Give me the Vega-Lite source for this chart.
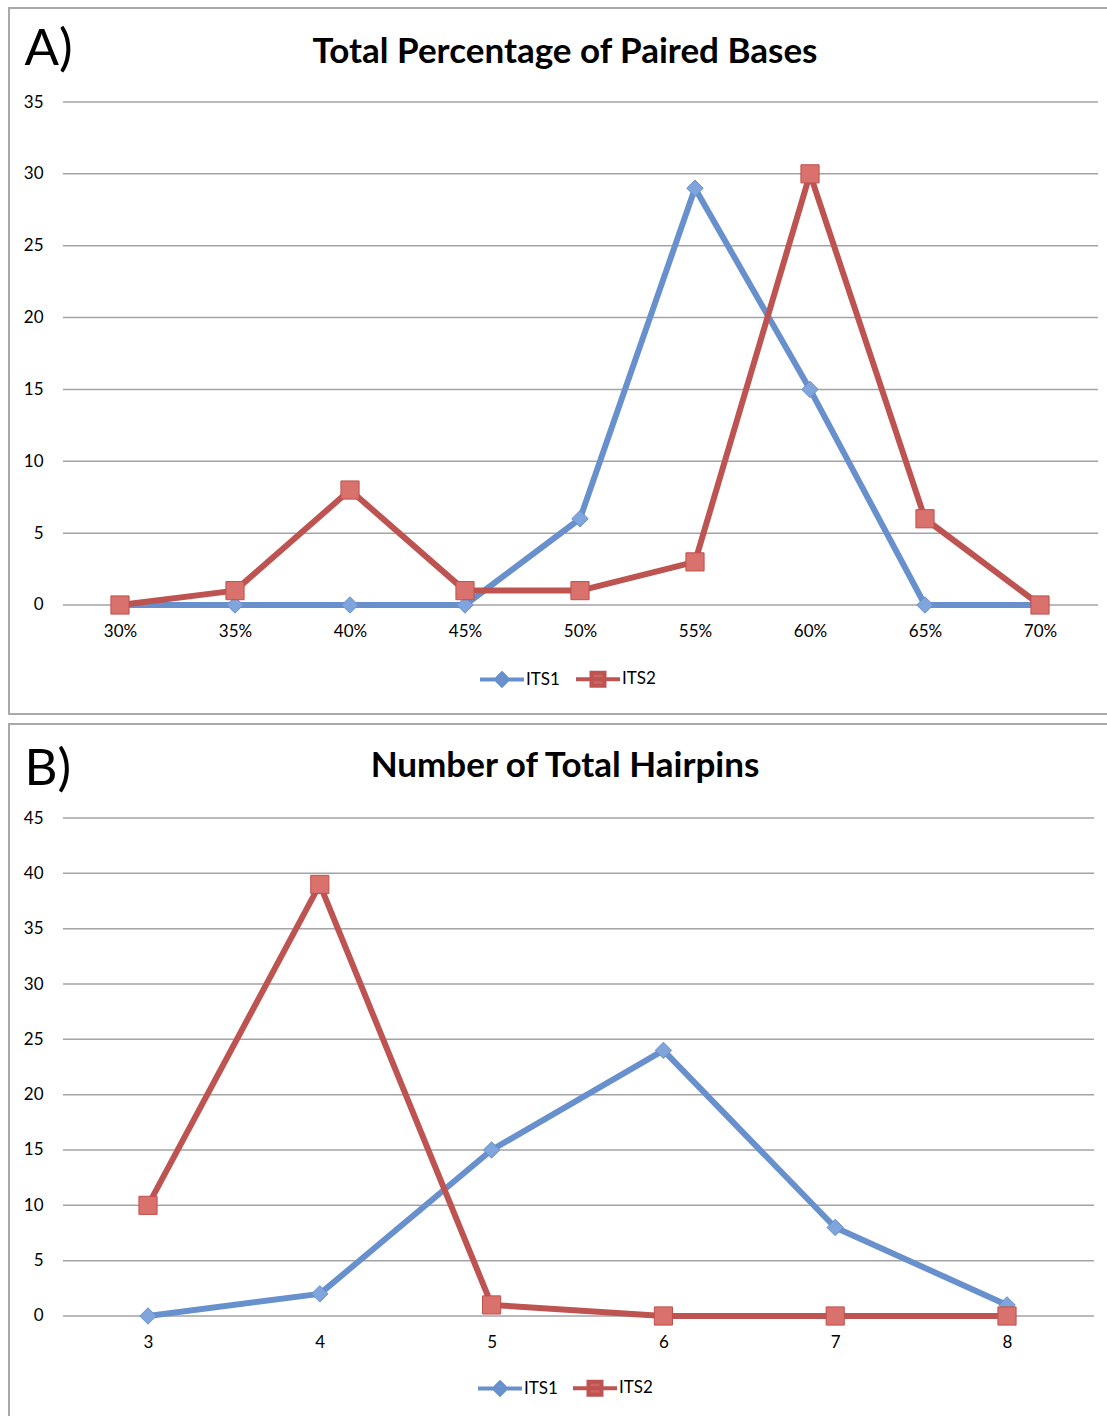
{
  "$schema": "https://vega.github.io/schema/vega-lite/v6.json",
  "padding": {"left": 8, "top": 7, "right": 0, "bottom": 0},
  "spacing": 8,
  "config": {
    "font": "Lato",
    "view": {"stroke": "#A9A9A9", "strokeWidth": 2},
    "legend": {"padding": 0}
  },
  "datasets": {
    "paired": [
      {"pct": 30, "series": "ITS1", "count": 0},
      {"pct": 35, "series": "ITS1", "count": 0},
      {"pct": 40, "series": "ITS1", "count": 0},
      {"pct": 45, "series": "ITS1", "count": 0},
      {"pct": 50, "series": "ITS1", "count": 6},
      {"pct": 55, "series": "ITS1", "count": 29},
      {"pct": 60, "series": "ITS1", "count": 15},
      {"pct": 65, "series": "ITS1", "count": 0},
      {"pct": 70, "series": "ITS1", "count": 0},
      {"pct": 30, "series": "ITS2", "count": 0},
      {"pct": 35, "series": "ITS2", "count": 1},
      {"pct": 40, "series": "ITS2", "count": 8},
      {"pct": 45, "series": "ITS2", "count": 1},
      {"pct": 50, "series": "ITS2", "count": 1},
      {"pct": 55, "series": "ITS2", "count": 3},
      {"pct": 60, "series": "ITS2", "count": 30},
      {"pct": 65, "series": "ITS2", "count": 6},
      {"pct": 70, "series": "ITS2", "count": 0}
    ],
    "hairpins": [
      {"n": 3, "series": "ITS1", "count": 0},
      {"n": 4, "series": "ITS1", "count": 2},
      {"n": 5, "series": "ITS1", "count": 15},
      {"n": 6, "series": "ITS1", "count": 24},
      {"n": 7, "series": "ITS1", "count": 8},
      {"n": 8, "series": "ITS1", "count": 1},
      {"n": 3, "series": "ITS2", "count": 10},
      {"n": 4, "series": "ITS2", "count": 39},
      {"n": 5, "series": "ITS2", "count": 1},
      {"n": 6, "series": "ITS2", "count": 0},
      {"n": 7, "series": "ITS2", "count": 0},
      {"n": 8, "series": "ITS2", "count": 0}
    ],
    "gridA": [{"g": 0}, {"g": 5}, {"g": 10}, {"g": 15}, {"g": 20}, {"g": 25}, {"g": 30}, {"g": 35}],
    "gridB": [{"g": 0}, {"g": 5}, {"g": 10}, {"g": 15}, {"g": 20}, {"g": 25}, {"g": 30}, {"g": 35}, {"g": 40}, {"g": 45}]
  },
  "resolve": {
    "scale": {"x": "independent", "y": "independent", "color": "independent"},
    "legend": {"color": "independent"},
    "axis": {"x": "independent", "y": "independent"}
  },
  "vconcat": [
    {
      "width": 1104,
      "height": 706,
      "title": {"text": "Total Percentage of Paired Bases", "anchor": "middle", "frame": "group", "offset": -90, "baseline": "alphabetic", "fontSize": 35, "font": "Lato", "fontWeight": "bold", "color": "black", "dx": 4},
      "layer": [
        {
          "data": {"name": "gridA"},
          "mark": {"type": "rule", "color": "#A3A3A3", "strokeWidth": 1.5},
          "encoding": {
            "x": {"datum": 27.52, "type": "quantitative", "scale": {"domain": [25.174, 73.174], "nice": false, "zero": false}},
            "x2": {"datum": 72.52},
            "y": {"field": "g", "type": "quantitative", "scale": {"domain": [-7.585, 41.541], "nice": false, "zero": false}}
          }
        },
        {
          "data": {"name": "paired"},
          "mark": {"type": "line", "strokeWidth": 6, "strokeJoin": "round", "strokeCap": "round"},
          "encoding": {
            "x": {"field": "pct", "type": "quantitative",
              "axis": {"values": [30, 35, 40, 45, 50, 55, 60, 65, 70], "labelExpr": "datum.value + '%'", "grid": false, "ticks": false, "tickSize": 0, "domain": false, "offset": -109, "labelPadding": 18, "labelFontSize": 17, "labelColor": "black", "labelFont": "Lato", "title": null}},
            "y": {"field": "count", "type": "quantitative",
              "axis": {"values": [0, 5, 10, 15, 20, 25, 30, 35], "grid": false, "ticks": false, "tickSize": 0, "domain": false, "offset": -38, "labelPadding": 4, "labelFontSize": 17, "labelColor": "black", "labelFont": "Lato",
                "title": "A)", "titleAngle": 0, "titleX": -23, "titleY": 56, "titleAlign": "left", "titleBaseline": "alphabetic", "titleFontSize": 51, "titleFontWeight": "normal", "titleFont": "Lato", "titleColor": "black"}},
            "color": {"field": "series", "type": "nominal",
              "scale": {"domain": ["ITS1", "ITS2"], "range": ["#6890CC", "#BE5451"]},
              "legend": {"orient": "none", "legendX": 481, "legendY": 659, "direction": "horizontal", "title": null, "symbolSize": 400, "symbolStrokeWidth": 4, "labelOffset": 12, "columnPadding": 8, "labelFontSize": 17, "labelColor": "black", "labelFont": "Lato",
                "encode": {"symbols": {"update": {
                  "shape": {"signal": "datum.value === 'ITS1' ? 'M-2.2,0L2.2,0M0,-0.6L0.6,0L0,0.6L-0.6,0Z' : 'M-2.2,0L2.2,0M-0.65,-0.65L0.65,-0.65L0.65,0.65L-0.65,0.65Z'"},
                  "fill": {"signal": "datum.value === 'ITS1' ? '#7FA3DA' : '#CF6560'"}
                }}}}}
          }
        },
        {
          "data": {"name": "paired"},
          "transform": [{"filter": "datum.series === 'ITS1'"}],
          "mark": {"type": "point", "shape": "diamond", "size": 270, "filled": true, "fill": "#80A5DC", "stroke": "#6890CC", "strokeWidth": 1, "opacity": 1},
          "encoding": {
            "x": {"field": "pct", "type": "quantitative"},
            "y": {"field": "count", "type": "quantitative"}
          }
        },
        {
          "data": {"name": "paired"},
          "transform": [{"filter": "datum.series === 'ITS2'"}],
          "mark": {"type": "point", "shape": "square", "size": 330, "filled": true, "fill": "#D9716C", "stroke": "#C0504D", "strokeWidth": 1, "opacity": 1},
          "encoding": {
            "x": {"field": "pct", "type": "quantitative"},
            "y": {"field": "count", "type": "quantitative"}
          }
        }
      ]
    },
    {
      "width": 1104,
      "height": 697,
      "title": {"text": "Number of Total Hairpins", "anchor": "middle", "frame": "group", "offset": -88, "baseline": "alphabetic", "fontSize": 35, "font": "Lato", "fontWeight": "bold", "color": "black", "dx": 4},
      "layer": [
        {
          "data": {"name": "gridB"},
          "mark": {"type": "rule", "color": "#A3A3A3", "strokeWidth": 1.5},
          "encoding": {
            "x": {"datum": 2.5052, "type": "quantitative", "scale": {"domain": [2.1909, 8.617], "nice": false, "zero": false}},
            "x2": {"datum": 8.5064},
            "y": {"field": "g", "type": "quantitative", "scale": {"domain": [-9.488, 53.494], "nice": false, "zero": false}}
          }
        },
        {
          "data": {"name": "hairpins"},
          "mark": {"type": "line", "strokeWidth": 6, "strokeJoin": "round", "strokeCap": "round"},
          "encoding": {
            "x": {"field": "n", "type": "quantitative",
              "axis": {"values": [3, 4, 5, 6, 7, 8], "format": "d", "grid": false, "ticks": false, "tickSize": 0, "domain": false, "offset": -105, "labelPadding": 18, "labelFontSize": 17, "labelColor": "black", "labelFont": "Lato", "title": null}},
            "y": {"field": "count", "type": "quantitative",
              "axis": {"values": [0, 5, 10, 15, 20, 25, 30, 35, 40, 45], "grid": false, "ticks": false, "tickSize": 0, "domain": false, "offset": -38, "labelPadding": 4, "labelFontSize": 17, "labelColor": "black", "labelFont": "Lato",
                "title": "B)", "titleAngle": 0, "titleX": -23, "titleY": 60, "titleAlign": "left", "titleBaseline": "alphabetic", "titleFontSize": 51, "titleFontWeight": "normal", "titleFont": "Lato", "titleColor": "black"}},
            "color": {"field": "series", "type": "nominal",
              "scale": {"domain": ["ITS1", "ITS2"], "range": ["#6890CC", "#BE5451"]},
              "legend": {"orient": "none", "legendX": 479, "legendY": 652, "direction": "horizontal", "title": null, "symbolSize": 400, "symbolStrokeWidth": 4, "labelOffset": 12, "columnPadding": 7, "labelFontSize": 17, "labelColor": "black", "labelFont": "Lato",
                "encode": {"symbols": {"update": {
                  "shape": {"signal": "datum.value === 'ITS1' ? 'M-2.2,0L2.2,0M0,-0.6L0.6,0L0,0.6L-0.6,0Z' : 'M-2.2,0L2.2,0M-0.65,-0.65L0.65,-0.65L0.65,0.65L-0.65,0.65Z'"},
                  "fill": {"signal": "datum.value === 'ITS1' ? '#7FA3DA' : '#CF6560'"}
                }}}}}
          }
        },
        {
          "data": {"name": "hairpins"},
          "transform": [{"filter": "datum.series === 'ITS1'"}],
          "mark": {"type": "point", "shape": "diamond", "size": 270, "filled": true, "fill": "#80A5DC", "stroke": "#6890CC", "strokeWidth": 1, "opacity": 1},
          "encoding": {
            "x": {"field": "n", "type": "quantitative"},
            "y": {"field": "count", "type": "quantitative"}
          }
        },
        {
          "data": {"name": "hairpins"},
          "transform": [{"filter": "datum.series === 'ITS2'"}],
          "mark": {"type": "point", "shape": "square", "size": 330, "filled": true, "fill": "#D9716C", "stroke": "#C0504D", "strokeWidth": 1, "opacity": 1},
          "encoding": {
            "x": {"field": "n", "type": "quantitative"},
            "y": {"field": "count", "type": "quantitative"}
          }
        }
      ]
    }
  ]
}
